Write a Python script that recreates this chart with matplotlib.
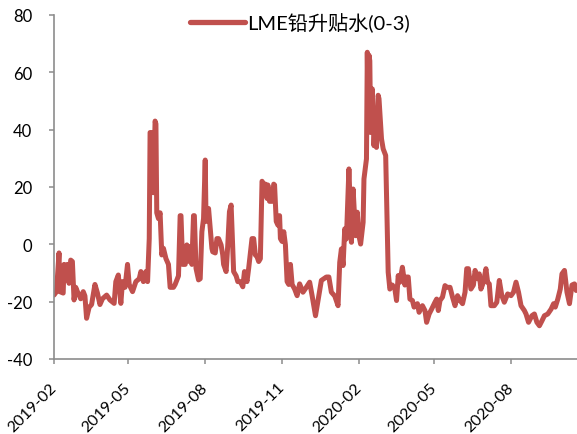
import pandas as pd
import matplotlib
matplotlib.use("Agg")
import matplotlib.pyplot as plt
import matplotlib.dates as mdates

plt.rcParams['font.family'] = ['Lato', 'Noto Sans CJK SC', 'DejaVu Sans']
plt.rcParams['axes.unicode_minus'] = False

# LME lead cash-3M spread
dates = [
    '2019-02-01', '2019-02-04', '2019-02-07', '2019-02-08', '2019-02-12', '2019-02-13',
    '2019-02-15', '2019-02-17', '2019-02-19', '2019-02-21', '2019-02-23', '2019-02-25',
    '2019-02-27', '2019-03-01', '2019-03-05', '2019-03-08', '2019-03-10', '2019-03-12',
    '2019-03-15', '2019-03-18', '2019-03-22', '2019-03-25', '2019-03-28', '2019-03-31',
    '2019-04-05', '2019-04-09', '2019-04-14', '2019-04-16', '2019-04-19', '2019-04-22',
    '2019-04-24', '2019-04-27', '2019-04-30', '2019-05-02', '2019-05-06', '2019-05-10',
    '2019-05-14', '2019-05-16', '2019-05-19', '2019-05-22', '2019-05-24', '2019-05-26',
    '2019-05-27', '2019-05-29', '2019-05-31', '2019-06-02', '2019-06-03', '2019-06-04',
    '2019-06-06', '2019-06-08', '2019-06-10', '2019-06-12', '2019-06-15', '2019-06-18',
    '2019-06-20', '2019-06-24', '2019-06-26', '2019-06-30', '2019-07-02', '2019-07-03',
    '2019-07-05', '2019-07-08', '2019-07-10', '2019-07-13', '2019-07-14', '2019-07-16',
    '2019-07-18', '2019-07-19', '2019-07-21', '2019-07-24', '2019-07-26', '2019-07-28',
    '2019-07-30', '2019-08-01', '2019-08-02', '2019-08-05', '2019-08-07', '2019-08-09',
    '2019-08-10', '2019-08-13', '2019-08-15', '2019-08-17', '2019-08-20', '2019-08-22',
    '2019-08-23', '2019-08-26', '2019-08-28', '2019-08-30', '2019-09-01', '2019-09-04',
    '2019-09-07', '2019-09-09', '2019-09-12', '2019-09-15', '2019-09-17', '2019-09-20',
    '2019-09-22', '2019-09-26', '2019-09-28', '2019-09-30', '2019-10-02', '2019-10-04',
    '2019-10-06', '2019-10-08', '2019-10-10', '2019-10-12', '2019-10-14', '2019-10-15',
    '2019-10-17', '2019-10-20', '2019-10-22', '2019-10-23', '2019-10-25', '2019-10-27',
    '2019-10-29', '2019-10-30', '2019-11-01', '2019-11-03', '2019-11-05', '2019-11-07',
    '2019-11-09', '2019-11-11', '2019-11-13', '2019-11-16', '2019-11-19', '2019-11-22',
    '2019-11-26', '2019-11-30', '2019-12-04', '2019-12-07', '2019-12-11', '2019-12-15',
    '2019-12-18', '2019-12-24', '2019-12-27', '2019-12-30', '2020-01-03', '2020-01-07',
    '2020-01-09', '2020-01-11', '2020-01-13', '2020-01-15', '2020-01-17', '2020-01-20',
    '2020-01-23', '2020-01-25', '2020-01-28', '2020-01-30', '2020-02-01', '2020-02-03',
    '2020-02-06', '2020-02-07', '2020-02-10', '2020-02-11', '2020-02-12', '2020-02-13',
    '2020-02-14', '2020-02-15', '2020-02-17', '2020-02-19', '2020-02-21', '2020-02-22',
    '2020-02-24', '2020-02-25', '2020-02-28', '2020-03-01', '2020-03-04', '2020-03-05',
    '2020-03-07', '2020-03-09', '2020-03-12', '2020-03-15', '2020-03-17', '2020-03-19',
    '2020-03-21', '2020-03-24', '2020-03-27', '2020-03-29', '2020-03-31', '2020-04-02',
    '2020-04-05', '2020-04-07', '2020-04-11', '2020-04-13', '2020-04-17', '2020-04-20',
    '2020-04-22', '2020-04-25', '2020-04-28', '2020-05-02', '2020-05-04', '2020-05-06',
    '2020-05-08', '2020-05-11', '2020-05-14', '2020-05-16', '2020-05-20', '2020-05-23',
    '2020-05-26', '2020-05-29', '2020-06-01', '2020-06-04', '2020-06-07', '2020-06-09',
    '2020-06-11', '2020-06-14', '2020-06-17', '2020-06-19', '2020-06-22', '2020-06-24',
    '2020-06-26', '2020-06-29', '2020-07-02', '2020-07-04', '2020-07-06', '2020-07-08',
    '2020-07-12', '2020-07-15', '2020-07-18', '2020-07-21', '2020-07-24', '2020-07-28',
    '2020-08-01', '2020-08-04', '2020-08-07', '2020-08-10', '2020-08-13', '2020-08-17',
    '2020-08-19', '2020-08-22', '2020-08-26', '2020-08-29', '2020-09-01', '2020-09-04',
    '2020-09-07', '2020-09-10', '2020-09-14', '2020-09-18', '2020-09-21', '2020-09-23',
    '2020-09-26', '2020-09-29', '2020-10-01', '2020-10-04', '2020-10-07', '2020-10-10',
    '2020-10-13', '2020-10-16', '2020-10-18',
]
spread = [
    -17.7, -16.5, -3, -16.5, -17, -7,
    -12, -7, -13.6, -5.5, -6, -19.4,
    -15, -16.5, -19, -16.5, -18, -25.8,
    -22, -21, -14, -17, -21, -19,
    -17.7, -19.4, -20.6, -13, -10.7, -20.6,
    -13, -15, -7, -14, -16.5, -13,
    -12, -9.5, -13, -9.5, -13, 2,
    39, 39, 18, 43, 42, 11,
    9, 11, -3.7, -1.4, -5, -7,
    -15, -15, -14, -11, 10, 10,
    -7, -7, -0.2, -6, -0.8, -7,
    10, 10, -8.4, -12.4, -12, 4.4,
    9, 29.4, 8, 12.5, 5.6, -1.4,
    -2.6, -3, 2, 2, -0.2, -3.7,
    -7, -9.5, -0.2, 11.4, 13.7, -9.5,
    -11, -13, -13, -14.8, -9.5, -13,
    -8.4, 2, 2, -3.7, -4.3, -6,
    -5, 22, 21, 21, 16, 20.7,
    15, 15, 21, 20.7, 8, 6.7,
    10, 2, 1, 4.4, -0.2, -13,
    -14, -7, -14, -15.6, -17.9, -13.8,
    -16.7, -15, -13.2, -18, -24.9, -18,
    -12.6, -11.4, -11.4, -16.7, -18, -21.4,
    -6.3, -1.6, -7.4, 5.4, 1.9, 26.3,
    0.7, 19.3, 3, 11.2, 3, 0.1,
    7.7, 22.8, 29.8, 67, 44, 66,
    64, 39, 54.2, 34.4, 46, 33.8,
    52, 50.8, 36.8, 33.3, 31, 17,
    -9.7, -15.6, -14.2, -15.6, -19.6, -10.9,
    -13.2, -8, -14.2, -11.4, -11.4, -19.1,
    -19.6, -21.9, -20.7, -23.7, -21.4, -23.1,
    -27.2, -24.3, -22.6, -20.2, -19.1, -23.1,
    -19.6, -18.4, -14.4, -15, -15, -18.4,
    -21.4, -17.9, -19.6, -20.7, -16.7, -8.5,
    -8.5, -15.6, -14.2, -9.1, -12, -10.3,
    -15.6, -13.2, -8.5, -13.2, -13.8, -21.4,
    -21.4, -20.2, -12.6, -17.9, -20.2, -17.3,
    -17.9, -16.7, -13.2, -16.7, -21.4, -23.1,
    -24.3, -27.2, -24.9, -24.3, -27.2, -28.4,
    -26.7, -24.9, -24.3, -22.6, -20.7, -21.9,
    -19.1, -15.6, -10.3, -9.1, -16.7, -20.7,
    -14.2, -13.8, -16.1,
]
series_name = 'LME铅升贴水(0-3)'
yticks = [-40, -20, 0, 20, 40, 60, 80]

x = pd.to_datetime(dates)
red = '#C0504D'
grey = '#8C8C8C'

fig = plt.figure(figsize=(5.77, 4.35), dpi=100)
ax = fig.add_axes([54/577, 1 - 360/435, 1 - 54/577, (360 - 16)/435])

ax.plot(x, spread, color=red, lw=3.6, solid_joinstyle='round',
        solid_capstyle='round', label=series_name)

ax.set_ylim(-40, 80)
ax.set_yticks(yticks)
ax.set_xlim(pd.Timestamp('2019-02-01'), pd.Timestamp('2020-10-19'))
ax.xaxis.set_major_locator(mdates.MonthLocator(bymonth=[2, 5, 8, 11]))
ax.xaxis.set_major_formatter(mdates.DateFormatter('%Y-%m'))

for s in ['top', 'right']:
    ax.spines[s].set_visible(False)
for s in ['left', 'bottom']:
    ax.spines[s].set_color(grey)
    ax.spines[s].set_linewidth(1.2)

ax.tick_params(axis='y', direction='out', length=3.6, width=1.1, color=grey,
               labelsize=12, pad=12)
ax.tick_params(axis='x', direction='out', length=3.6, width=1.1, color=grey,
               labelsize=11.5, pad=15)
for lab in ax.get_xticklabels():
    lab.set_rotation(45)
    lab.set_ha('right')
    lab.set_va('center')
    lab.set_rotation_mode('anchor')

leg = ax.legend(loc='center', bbox_to_anchor=(300/577, 1 - 23/435),
                bbox_transform=fig.transFigure, frameon=False, fontsize=14.5,
                handlelength=2.7, handletextpad=0.1, borderpad=0)
for h in leg.get_lines():
    h.set_linewidth(3.8)
    h.set_solid_capstyle('round')

fig.savefig('out.png', dpi=100)
